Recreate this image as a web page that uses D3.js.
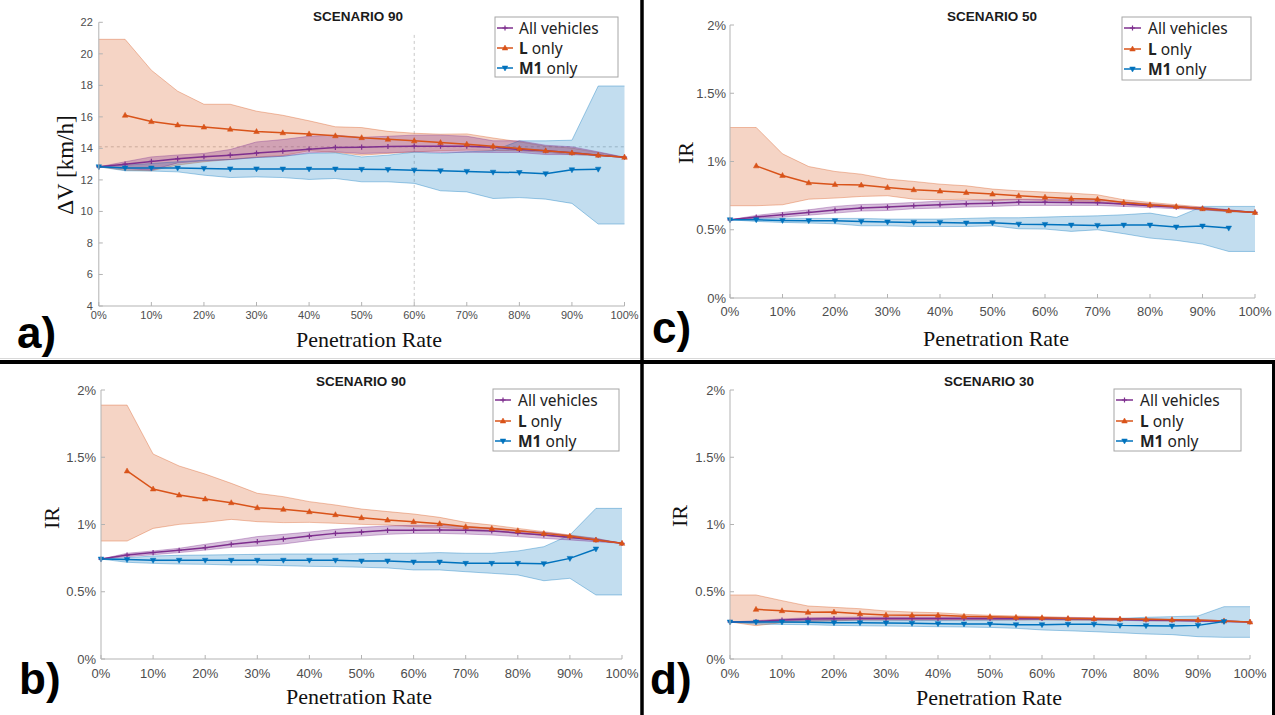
<!DOCTYPE html>
<meta charset="utf-8">
<style>
  body { margin: 0; background: #fff; }
  svg { display: block; font-family: "Liberation Sans", Arial, sans-serif; }
  .axis-line { stroke: #b3b3b3; stroke-width: 1; fill: none; }
  .tick-label { fill: #4d4d4d; }
  .title { font-weight: bold; fill: #1a1a1a; }
  .serif { font-family: "Liberation Serif", "DejaVu Serif", serif; fill: #111; }
  .legend-text { font-family: "Noto Sans", "Liberation Sans", sans-serif; font-size: 15.5px; fill: #222; }
  .letter { font-weight: bold; font-size: 44px; fill: #000; }
  .refline { stroke: #c8c8c8; stroke-width: 1; stroke-dasharray: 3,3; }
</style>
<body>
<svg id="fig" width="1275" height="715"></svg>
<script src="https://d3js.org/d3.v7.min.js"></script>
<script>
  // penetration rate (%)
  const penetration = [0, 5, 10, 15, 20, 25, 30, 35, 40, 45, 50, 55, 60, 65, 70, 75, 80, 85, 90, 95, 100];

  // a) Scenario 90, delta V [km/h]
  const aAll   = [12.83, 13.0, 13.17, 13.34, 13.47, 13.57, 13.70, 13.82, 13.95, 14.06, 14.08, 14.12, 14.14, 14.14, 14.14, 14.08, 13.93, 13.85, 13.72, 13.57, 13.44];
  const aAllHi = [12.83, 13.15, 13.46, 13.58, 13.68, 13.93, 14.41, 14.56, 14.77, 14.84, 14.70, 14.77, 14.84, 14.84, 14.77, 14.48, 14.48, 14.2, 14.1, 13.78, 13.44];
  const aAllLo = [12.83, 12.72, 12.62, 13.08, 13.21, 13.29, 13.42, 13.50, 13.72, 13.78, 13.68, 13.72, 13.78, 13.74, 13.76, 13.74, 13.74, 13.61, 13.61, 13.57, 13.44];
  const aL     = [null, 16.1, 15.70, 15.49, 15.35, 15.22, 15.07, 14.99, 14.92, 14.80, 14.68, 14.58, 14.48, 14.37, 14.27, 14.14, 13.99, 13.85, 13.72, 13.57, 13.44];
  const aLHi   = [20.92, 20.92, 18.96, 17.63, 16.8, 16.8, 16.36, 16.1, 15.75, 15.37, 15.32, 15.08, 14.96, 14.90, 14.92, 14.66, 14.42, 14.14, 14.02, 13.73, 13.44];
  const aLLo   = [12.83, 12.62, 12.58, 12.95, 13.15, 13.3, 13.45, 13.55, 13.85, 13.75, 13.57, 13.68, 13.78, 13.85, 13.89, 13.87, 13.85, 13.75, 13.61, 13.53, 13.44];
  const aM1    = [12.83, 12.75, 12.75, 12.75, 12.73, 12.70, 12.70, 12.69, 12.69, 12.69, 12.67, 12.66, 12.62, 12.58, 12.54, 12.49, 12.47, 12.39, 12.64, 12.68, null];
  const aM1Hi  = [12.83, 12.93, 13.04, 13.15, 13.25, 13.3, 13.42, 13.50, 13.68, 13.72, 13.46, 13.57, 13.76, 13.68, 13.78, 13.85, 14.48, 14.48, 14.52, 17.96, 17.96];
  const aM1Lo  = [12.83, 12.58, 12.56, 12.51, 12.30, 12.15, 12.19, 12.15, 12.03, 12.09, 11.88, 11.88, 11.78, 11.31, 11.24, 10.82, 10.88, 10.78, 10.51, 9.2, 9.2];

  // b) Scenario 90, IR (%)
  const bAll   = [0.743, 0.773, 0.791, 0.808, 0.828, 0.853, 0.872, 0.892, 0.914, 0.934, 0.944, 0.957, 0.957, 0.959, 0.957, 0.952, 0.937, 0.922, 0.905, 0.885, 0.86];
  const bAllHi = [0.743, 0.786, 0.803, 0.823, 0.853, 0.88, 0.91, 0.927, 0.944, 0.964, 0.979, 0.989, 0.994, 0.994, 0.984, 0.974, 0.957, 0.942, 0.919, 0.895, 0.86];
  const bAllLo = [0.743, 0.761, 0.776, 0.791, 0.81, 0.83, 0.84, 0.855, 0.88, 0.902, 0.914, 0.927, 0.934, 0.934, 0.929, 0.922, 0.91, 0.897, 0.885, 0.872, 0.86];
  const bL     = [null, 1.398, 1.264, 1.219, 1.190, 1.162, 1.125, 1.113, 1.095, 1.073, 1.051, 1.033, 1.021, 1.006, 0.984, 0.971, 0.954, 0.934, 0.914, 0.885, 0.86];
  const bLHi   = [1.888, 1.888, 1.524, 1.435, 1.375, 1.306, 1.232, 1.207, 1.17, 1.145, 1.115, 1.096, 1.078, 1.053, 1.016, 0.996, 0.971, 0.947, 0.922, 0.897, 0.86];
  const bLLo   = [0.877, 0.877, 0.971, 1.001, 1.016, 1.038, 1.021, 1.014, 1.016, 1.009, 1.001, 0.996, 0.984, 0.979, 0.964, 0.954, 0.934, 0.919, 0.90, 0.885, 0.86];
  const bM1    = [0.743, 0.739, 0.734, 0.734, 0.734, 0.734, 0.734, 0.734, 0.734, 0.734, 0.729, 0.729, 0.721, 0.721, 0.711, 0.711, 0.711, 0.709, 0.748, 0.818, null];
  const bM1Hi  = [0.743, 0.753, 0.766, 0.771, 0.773, 0.776, 0.778, 0.781, 0.781, 0.781, 0.783, 0.786, 0.786, 0.791, 0.786, 0.786, 0.803, 0.835, 0.922, 1.12, 1.12];
  const bM1Lo  = [0.743, 0.719, 0.711, 0.706, 0.704, 0.699, 0.699, 0.694, 0.689, 0.687, 0.682, 0.677, 0.662, 0.662, 0.649, 0.637, 0.625, 0.582, 0.60, 0.476, 0.476];

  // c) Scenario 50, IR (%)
  const cAll   = [0.573, 0.593, 0.61, 0.627, 0.644, 0.659, 0.666, 0.676, 0.683, 0.690, 0.695, 0.702, 0.702, 0.700, 0.698, 0.688, 0.676, 0.666, 0.656, 0.641, 0.627];
  const cAllHi = [0.573, 0.605, 0.627, 0.646, 0.671, 0.685, 0.69, 0.70, 0.71, 0.715, 0.72, 0.724, 0.722, 0.72, 0.72, 0.705, 0.69, 0.675, 0.662, 0.646, 0.627];
  const cAllLo = [0.573, 0.585, 0.593, 0.607, 0.622, 0.637, 0.641, 0.654, 0.659, 0.666, 0.671, 0.678, 0.678, 0.678, 0.678, 0.671, 0.663, 0.654, 0.646, 0.634, 0.627];
  const cL     = [null, 0.968, 0.898, 0.844, 0.832, 0.827, 0.81, 0.793, 0.783, 0.773, 0.761, 0.749, 0.739, 0.729, 0.724, 0.70, 0.683, 0.671, 0.654, 0.639, 0.627];
  const cLHi   = [1.249, 1.249, 1.056, 0.963, 0.927, 0.907, 0.871, 0.854, 0.834, 0.822, 0.798, 0.785, 0.776, 0.768, 0.756, 0.72, 0.70, 0.683, 0.666, 0.646, 0.627];
  const cLLo   = [0.676, 0.676, 0.683, 0.724, 0.732, 0.744, 0.749, 0.724, 0.72, 0.724, 0.715, 0.72, 0.715, 0.71, 0.707, 0.683, 0.676, 0.663, 0.646, 0.632, 0.627];
  const cM1    = [0.573, 0.573, 0.568, 0.566, 0.566, 0.561, 0.556, 0.554, 0.554, 0.549, 0.551, 0.541, 0.539, 0.534, 0.532, 0.534, 0.534, 0.52, 0.527, 0.512, null];
  const cM1Hi  = [0.573, 0.585, 0.585, 0.583, 0.583, 0.583, 0.578, 0.578, 0.578, 0.583, 0.588, 0.588, 0.593, 0.598, 0.602, 0.61, 0.622, 0.59, 0.671, 0.671, 0.671];
  const cM1Lo  = [0.573, 0.561, 0.554, 0.549, 0.544, 0.529, 0.529, 0.524, 0.524, 0.524, 0.529, 0.507, 0.505, 0.488, 0.50, 0.471, 0.439, 0.422, 0.395, 0.341, 0.341];

  // d) Scenario 30, IR (%)
  const dAll   = [0.275, 0.278, 0.29, 0.297, 0.30, 0.302, 0.302, 0.302, 0.302, 0.302, 0.302, 0.302, 0.302, 0.30, 0.297, 0.295, 0.29, 0.288, 0.285, 0.28, 0.275];
  const dAllHi = [0.275, 0.285, 0.298, 0.306, 0.31, 0.312, 0.312, 0.312, 0.312, 0.312, 0.311, 0.311, 0.31, 0.308, 0.305, 0.302, 0.297, 0.294, 0.29, 0.285, 0.275];
  const dAllLo = [0.275, 0.271, 0.282, 0.288, 0.29, 0.292, 0.292, 0.292, 0.292, 0.293, 0.293, 0.293, 0.294, 0.292, 0.29, 0.288, 0.284, 0.282, 0.28, 0.276, 0.275];
  const dL     = [null, 0.369, 0.359, 0.347, 0.349, 0.337, 0.327, 0.325, 0.325, 0.317, 0.315, 0.31, 0.307, 0.302, 0.30, 0.297, 0.295, 0.292, 0.29, 0.283, 0.275];
  const dLHi   = [0.476, 0.476, 0.434, 0.394, 0.384, 0.374, 0.357, 0.349, 0.344, 0.332, 0.325, 0.32, 0.315, 0.31, 0.307, 0.302, 0.30, 0.295, 0.29, 0.285, 0.275];
  const dLLo   = [0.275, 0.248, 0.27, 0.278, 0.283, 0.29, 0.29, 0.29, 0.29, 0.29, 0.29, 0.29, 0.29, 0.289, 0.288, 0.287, 0.285, 0.283, 0.282, 0.278, 0.275];
  const dM1    = [0.275, 0.275, 0.275, 0.273, 0.27, 0.27, 0.268, 0.265, 0.263, 0.26, 0.26, 0.255, 0.255, 0.258, 0.258, 0.25, 0.248, 0.245, 0.25, 0.278, null];
  const dM1Hi  = [0.275, 0.28, 0.283, 0.284, 0.285, 0.285, 0.285, 0.286, 0.286, 0.288, 0.29, 0.292, 0.294, 0.296, 0.298, 0.302, 0.31, 0.315, 0.32, 0.389, 0.389];
  const dM1Lo  = [0.275, 0.26, 0.257, 0.255, 0.25, 0.247, 0.245, 0.243, 0.24, 0.238, 0.235, 0.228, 0.216, 0.21, 0.203, 0.195, 0.186, 0.181, 0.166, 0.161, 0.161];

  // tick values
  const xTicks = [0, 10, 20, 30, 40, 50, 60, 70, 80, 90, 100];
  const dvTicks = [4, 6, 8, 10, 12, 14, 16, 18, 20, 22];
  const irTicks = [0, 0.5, 1, 1.5, 2];
  // reference lines in panel a
  const aRefX = 60, aRefXTop = 21.2, aRefY = 14.1;

  const seriesNames = ["All vehicles", "L only", "M1 only"];
  const colors = { all: "#7E2F8E", L: "#D95319", M1: "#0072BD" };
  const fillOpacity = { all: 0.3, L: 0.25, M1: 0.24 };

  const svg = d3.select("#fig");
  svg.append("rect").attr("width", 1275).attr("height", 715).attr("fill", "#fff");

  function pct(v) { return v + "%"; }

  function drawPanel(cfg) {
    const x = d3.scaleLinear().domain([0, 100]).range([cfg.x0, cfg.x1]);
    const y = d3.scaleLinear().domain(cfg.domain).range([cfg.yBot, cfg.yTop]);
    const g = svg.append("g");

    // reference lines
    if (cfg.refs) {
      g.append("line").attr("class", "refline")
        .attr("x1", x(aRefX)).attr("x2", x(aRefX)).attr("y1", y(aRefXTop)).attr("y2", y(cfg.domain[0]));
      g.append("line").attr("class", "refline")
        .attr("x1", x(0)).attr("x2", x(100)).attr("y1", y(aRefY)).attr("y2", y(aRefY));
    }

    const rows = (mean, lo, hi) => penetration.map((p, i) => ({ p: p, v: mean[i], lo: lo[i], hi: hi[i] }));
    const series = [
      { key: "L", data: rows(cfg.L, cfg.LLo, cfg.LHi) },
      { key: "M1", data: rows(cfg.M1, cfg.M1Lo, cfg.M1Hi) },
      { key: "all", data: rows(cfg.all, cfg.allLo, cfg.allHi) }
    ];

    const area = d3.area().x(d => x(d.p)).y0(d => y(d.lo)).y1(d => y(d.hi));
    const edgeHi = d3.line().x(d => x(d.p)).y(d => y(d.hi));
    const edgeLo = d3.line().x(d => x(d.p)).y(d => y(d.lo));

    series.forEach(s => {
      g.append("path").attr("d", area(s.data))
        .attr("fill", colors[s.key]).attr("fill-opacity", fillOpacity[s.key]);
      [edgeHi, edgeLo].forEach(fn => {
        g.append("path").attr("d", fn(s.data)).attr("fill", "none")
          .attr("stroke", colors[s.key]).attr("stroke-opacity", 0.4).attr("stroke-width", 0.9);
      });
    });

    // mean lines: All, L, M1
    const line = d3.line().defined(d => d.v != null).x(d => x(d.p)).y(d => y(d.v));
    ["all", "L", "M1"].forEach(k => {
      const s = series.find(t => t.key === k);
      g.append("path").attr("d", line(s.data)).attr("fill", "none")
        .attr("stroke", colors[k]).attr("stroke-width", 1.5);
      g.selectAll(null).data(s.data.filter(d => d.v != null)).join("path")
        .attr("transform", d => `translate(${x(d.p)},${y(d.v)})`)
        .attr("d", markerPath(k))
        .attr("fill", k === "all" ? "none" : colors[k])
        .attr("stroke", colors[k]).attr("stroke-width", k === "all" ? 1.2 : 0.5);
    });

    // axes
    g.append("line").attr("class", "axis-line")
      .attr("x1", cfg.x0).attr("x2", cfg.x0).attr("y1", cfg.yTop).attr("y2", cfg.yBot);
    g.append("line").attr("class", "axis-line")
      .attr("x1", cfg.x0).attr("x2", cfg.x1).attr("y1", cfg.yBot).attr("y2", cfg.yBot);

    xTicks.forEach(t => {
      g.append("line").attr("class", "axis-line")
        .attr("x1", x(t)).attr("x2", x(t)).attr("y1", cfg.yBot).attr("y2", cfg.yBot - 4);
      g.append("text").attr("class", "tick-label")
        .attr("x", x(t)).attr("y", cfg.xTickY)
        .attr("text-anchor", "middle").style("font-size", cfg.tickSize + "px")
        .text(pct(t));
    });
    cfg.yTicks.forEach(t => {
      g.append("line").attr("class", "axis-line")
        .attr("x1", cfg.x0).attr("x2", cfg.x0 + 4).attr("y1", y(t)).attr("y2", y(t));
      g.append("text").attr("class", "tick-label")
        .attr("x", cfg.x0 - cfg.yTickGap).attr("y", y(t))
        .attr("dy", "0.35em").attr("text-anchor", "end").style("font-size", cfg.tickSize + "px")
        .text(cfg.yFmt(t));
    });

    // title + labels
    g.append("text").attr("class", "title")
      .attr("x", cfg.titleX).attr("y", cfg.titleY).attr("text-anchor", "middle")
      .style("font-size", "13.5px").text(cfg.title);
    g.append("text").attr("class", "serif")
      .attr("x", cfg.xlabX).attr("y", cfg.xlabY).attr("text-anchor", "middle")
      .style("font-size", "22px").text("Penetration Rate");
    g.append("text").attr("class", "serif")
      .attr("transform", `translate(${cfg.ylabX},${cfg.ylabY}) rotate(-90)`)
      .attr("text-anchor", "middle").style("font-size", cfg.ylabSize + "px").text(cfg.ylabel);
    g.append("text").attr("class", "letter")
      .attr("x", cfg.letterX).attr("y", cfg.letterY).text(cfg.letter);

    // legend
    const L = cfg.legend;
    g.append("rect").attr("x", L.x).attr("y", L.y).attr("width", L.w).attr("height", L.h)
      .attr("fill", "#fff").attr("stroke", "#a6a6a6").attr("stroke-width", 1);
    const keys = ["all", "L", "M1"];
    keys.forEach((k, i) => {
      const ry = L.rows[i];
      g.append("line").attr("x1", L.lx0).attr("x2", L.lx1).attr("y1", ry).attr("y2", ry)
        .attr("stroke", colors[k]).attr("stroke-width", 1.5);
      g.append("path").attr("transform", `translate(${(L.lx0 + L.lx1) / 2},${ry})`)
        .attr("d", markerPath(k))
        .attr("fill", k === "all" ? "none" : colors[k])
        .attr("stroke", colors[k]).attr("stroke-width", k === "all" ? 1.2 : 0.5);
      const t = g.append("text").attr("class", "legend-text")
        .attr("x", L.tx).attr("y", ry).attr("dy", "0.36em");
      if (k === "all") {
        t.text(seriesNames[0]);
      } else {
        const parts = seriesNames[i].split(" ");
        t.append("tspan").style("font-weight", "bold").text(parts[0]);
        t.append("tspan").text(" " + parts[1]);
      }
    });
  }

  function markerPath(k) {
    if (k === "all") return "M-2.6,0H2.6M0,-2.6V2.6";
    if (k === "L") return "M0,-3L2.8,2L-2.8,2Z";
    return "M0,3L2.8,-2L-2.8,-2Z";
  }

  const irFmt = t => t + "%";

  drawPanel({
    x0: 98.8, x1: 624.5, yTop: 22.3, yBot: 306, domain: [4, 22], yTicks: dvTicks, yFmt: t => t,
    tickSize: 11, yTickGap: 6, xTickY: 319,
    all: aAll, allLo: aAllLo, allHi: aAllHi, L: aL, LLo: aLLo, LHi: aLHi, M1: aM1, M1Lo: aM1Lo, M1Hi: aM1Hi,
    refs: true,
    title: "SCENARIO 90", titleX: 358, titleY: 21,
    xlabX: 369, xlabY: 347, ylabel: "ΔV [km/h]", ylabX: 73, ylabY: 165, ylabSize: 23,
    letter: "a)", letterX: 17, letterY: 348,
    legend: { x: 495, y: 17, w: 123, h: 60, rows: [28, 48, 68], lx0: 497, lx1: 513, tx: 519 }
  });

  drawPanel({
    x0: 101, x1: 622, yTop: 390, yBot: 659, domain: [0, 2], yTicks: irTicks, yFmt: irFmt,
    tickSize: 13, yTickGap: 5, xTickY: 678,
    all: bAll, allLo: bAllLo, allHi: bAllHi, L: bL, LLo: bLLo, LHi: bLHi, M1: bM1, M1Lo: bM1Lo, M1Hi: bM1Hi,
    title: "SCENARIO 90", titleX: 361, titleY: 386,
    xlabX: 359, xlabY: 704, ylabel: "IR", ylabX: 59, ylabY: 518, ylabSize: 22,
    letter: "b)", letterX: 19, letterY: 694,
    legend: { x: 493, y: 389, w: 126, h: 62, rows: [400, 421, 441], lx0: 495, lx1: 511, tx: 518 }
  });

  drawPanel({
    x0: 730, x1: 1255, yTop: 25, yBot: 298, domain: [0, 2], yTicks: irTicks, yFmt: irFmt,
    tickSize: 13, yTickGap: 4, xTickY: 316,
    all: cAll, allLo: cAllLo, allHi: cAllHi, L: cL, LLo: cLLo, LHi: cLHi, M1: cM1, M1Lo: cM1Lo, M1Hi: cM1Hi,
    title: "SCENARIO 50", titleX: 992, titleY: 21,
    xlabX: 996, xlabY: 346, ylabel: "IR", ylabX: 693, ylabY: 153, ylabSize: 22,
    letter: "c)", letterX: 652, letterY: 343,
    legend: { x: 1122, y: 17, w: 129, h: 63, rows: [28, 49, 69], lx0: 1124, lx1: 1141, tx: 1148 }
  });

  drawPanel({
    x0: 730, x1: 1250, yTop: 390, yBot: 659, domain: [0, 2], yTicks: irTicks, yFmt: irFmt,
    tickSize: 13, yTickGap: 5, xTickY: 678,
    all: dAll, allLo: dAllLo, allHi: dAllHi, L: dL, LLo: dLLo, LHi: dLHi, M1: dM1, M1Lo: dM1Lo, M1Hi: dM1Hi,
    title: "SCENARIO 30", titleX: 989, titleY: 386,
    xlabX: 989, xlabY: 705, ylabel: "IR", ylabX: 687, ylabY: 516, ylabSize: 22,
    letter: "d)", letterX: 650, letterY: 694,
    legend: { x: 1114, y: 389, w: 127, h: 62, rows: [400, 421, 441], lx0: 1116, lx1: 1133, tx: 1140 }
  });

  // panel separators
  svg.append("line").attr("x1", 0).attr("x2", 640).attr("y1", 358.5).attr("y2", 358.5)
    .attr("stroke", "#d9d9d9").attr("stroke-width", 1);
  svg.append("line").attr("x1", 644).attr("x2", 1275).attr("y1", 358.5).attr("y2", 358.5)
    .attr("stroke", "#d9d9d9").attr("stroke-width", 1);
  svg.append("line").attr("x1", 0).attr("x2", 1275).attr("y1", 362).attr("y2", 362)
    .attr("stroke", "#000").attr("stroke-width", 4);
  svg.append("line").attr("x1", 642).attr("x2", 642).attr("y1", 0).attr("y2", 715)
    .attr("stroke", "#000").attr("stroke-width", 3.5);
  svg.append("line").attr("x1", 1273.5).attr("x2", 1273.5).attr("y1", 360).attr("y2", 715)
    .attr("stroke", "#000").attr("stroke-width", 3);
</script>
</body>
</html>
